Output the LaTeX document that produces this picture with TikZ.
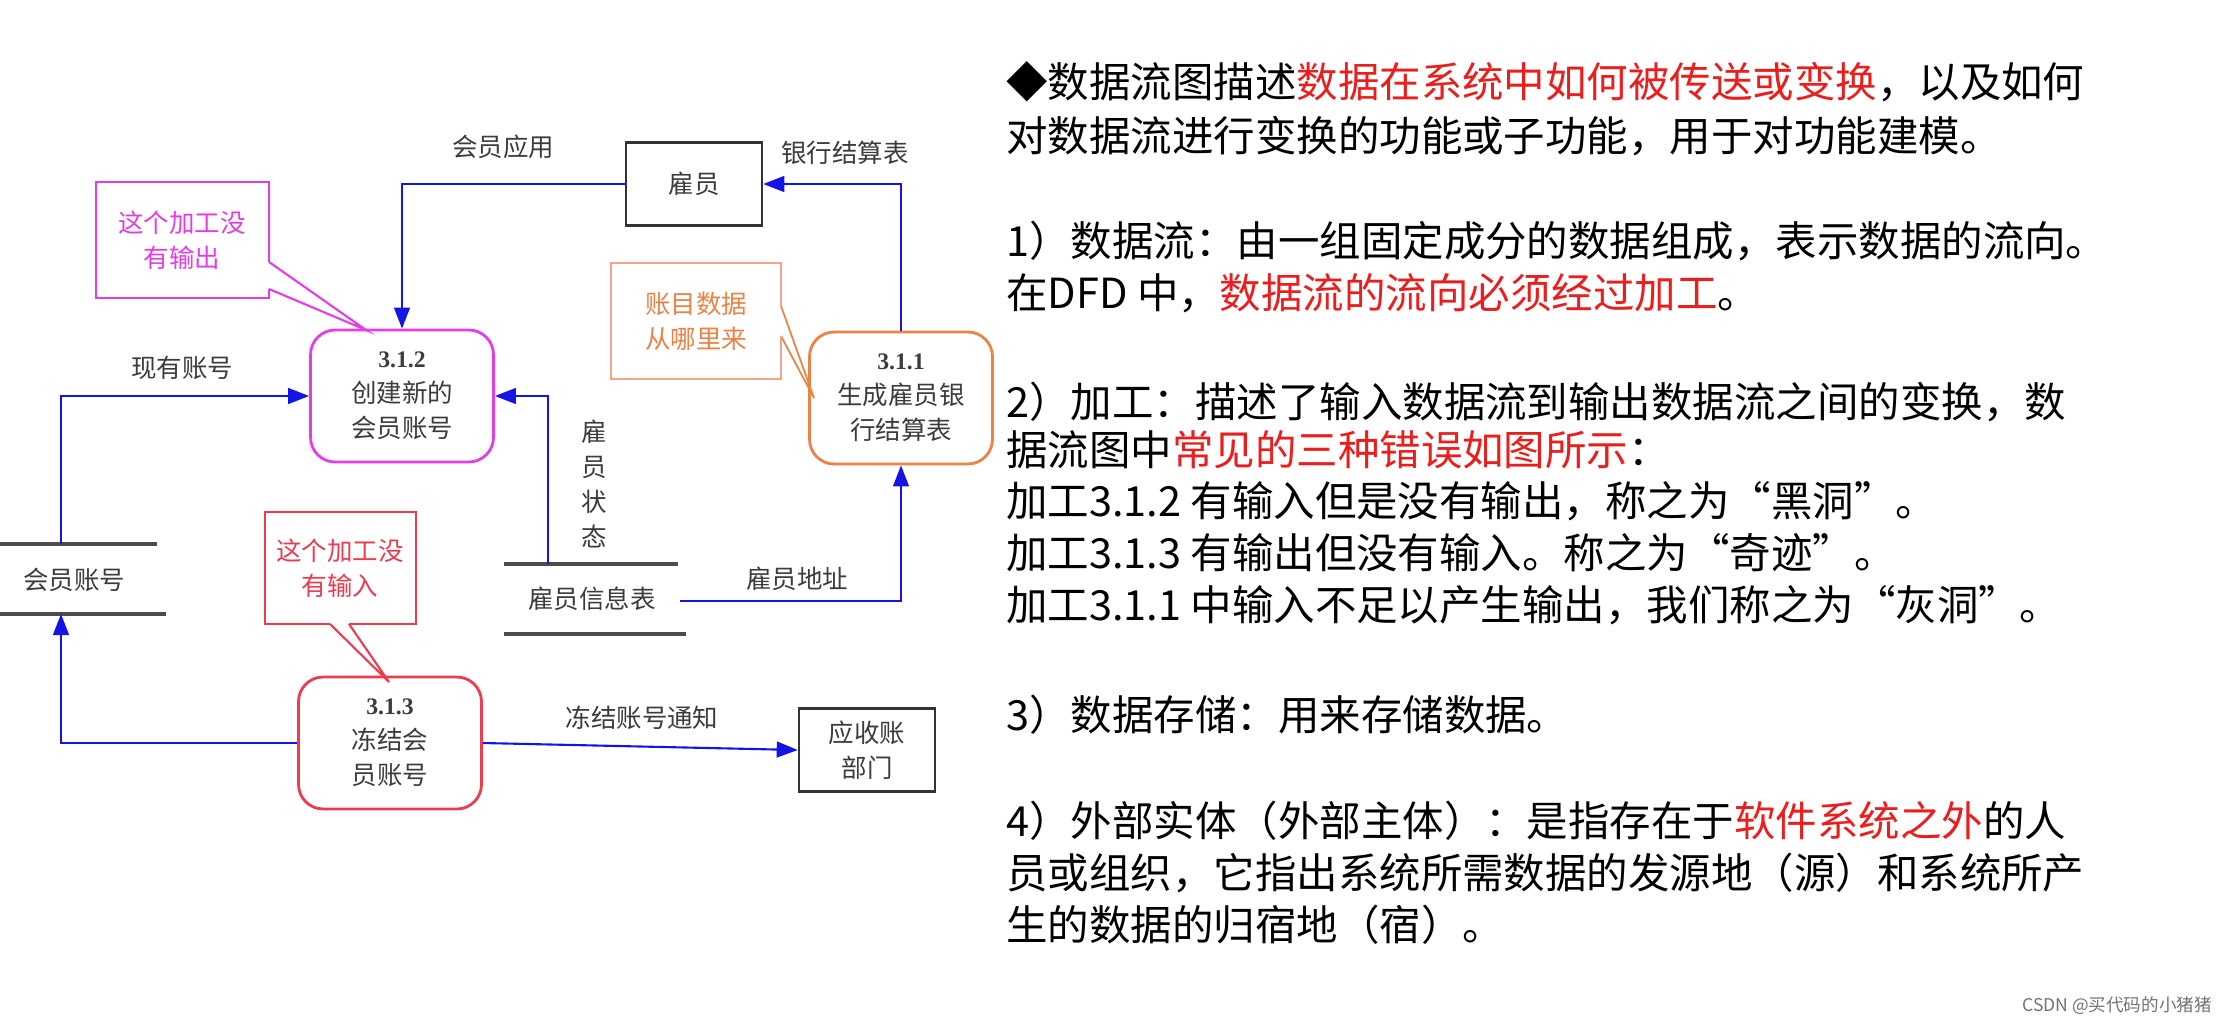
\documentclass[tikz,border=0pt]{standalone}
\usepackage{fontspec}
\setmainfont{Liberation Serif}
\newfontfamily\cjk{Noto Sans CJK SC}
\usetikzlibrary{arrows.meta}
\definecolor{flow}{RGB}{20,20,230}
\definecolor{mag}{RGB}{230,60,230}
\definecolor{rd}{RGB}{235,60,80}
\definecolor{org}{RGB}{235,130,70}
\definecolor{org2}{RGB}{240,165,140}
\definecolor{tred}{RGB}{235,30,30}
\definecolor{gtxt}{RGB}{60,60,60}
\newcommand\pnum[1]{{\normalfont\bfseries\fontsize{13.5}{16}\selectfont #1}}
\tikzset{
  proc/.style={draw,rounded corners=14pt,line width=1.6pt,minimum width=3.66cm,minimum height=2.64cm,align=center,font=\cjk\fontsize{14.5}{20}\selectfont,text=gtxt},
  ent/.style={draw=black!80,line width=1.4pt,minimum width=2.72cm,minimum height=1.66cm,align=center,font=\cjk\fontsize{14.5}{20}\selectfont,text=gtxt},
  lbl/.style={font=\cjk\fontsize{14.5}{17}\selectfont,text=gtxt},
  fl/.style={draw=flow,line width=1.2pt,-{Triangle[length=12pt,width=9pt]}},
  store/.style={draw=black!70,line width=2pt},
  cl/.style={font=\cjk\fontsize{14.5}{20}\selectfont,align=center},
  rt/.style={anchor=west,font=\cjk\fontsize{23.6}{28}\selectfont,text=black,inner sep=0pt}
}
\begin{document}
\begin{tikzpicture}[x=0.02cm,y=-0.02cm]
\useasboundingbox[fill=white] (0,0) rectangle (2228,1028);
% entities
\node[ent] (emp) at (694,184) {雇员};
\node[ent] (ar) at (867,750) {应收账\\部门};
% processes
\node[proc,draw=mag] (p312) at (402,396) {\pnum{3.1.2}\\创建新的\\会员账号};
\node[proc,draw=org] (p311) at (901,398) {\pnum{3.1.1}\\生成雇员银\\行结算表};
\node[proc,draw=rd] (p313) at (390,743) {\pnum{3.1.3}\\冻结会\\员账号};
% data stores
\draw[store] (0,544) -- (157,544);
\draw[store] (0,614) -- (166,614);
\node[lbl] (ds1) at (74,580) {会员账号};
\coordinate (ds1t) at (61,544);
\coordinate (ds1b) at (61,614);
\draw[store] (504,564) -- (678,564);
\draw[store] (504,634) -- (686,634);
\node[lbl] (ds2) at (592,599) {雇员信息表};
\coordinate (ds2t) at (548,564);
\coordinate (ds2r) at (680,601);
% flows
\draw[fl] (emp.west) -| (p312.north);
\node[lbl] at (503,147) {会员应用};
\draw[fl] (p311.north) |- (emp.east);
\node[lbl] at (845,153) {银行结算表};
\draw[fl] (ds1t) |- (p312.west);
\node[lbl] at (182,368) {现有账号};
\draw[fl] (ds2t) |- (p312.east);
\node[lbl,align=center,font=\cjk\fontsize{14.5}{20}\selectfont] at (594,484) {雇\\员\\状\\态};
\draw[fl] (ds2r) -| (p311.south);
\node[lbl] at (797,579) {雇员地址};
\draw[fl] (p313.west) -| (ds1b);
\draw[fl] (p313.east) -- (ar.west);
\node[lbl] at (642,718) {冻结账号通知};
% callouts
\draw[mag,line width=1.2pt] (269,262) -- (366,330) -- (269,289);
\draw[mag,line width=1.2pt] (269,289) -- (269,298) -- (96,298) -- (96,182) -- (269,182) -- (269,262);
\node[cl,text=mag] (c1) at (182,240) {这个加工没\\有输出};
\draw[rd,line width=1.2pt] (330,624) -- (389,682) -- (349,624);
\draw[rd,line width=1.2pt] (330,624) -- (265,624) -- (265,512) -- (416,512) -- (416,624) -- (349,624);
\node[cl,text=rd] (c2) at (340,568) {这个加工没\\有输入};
\draw[org,line width=1pt] (781,306) -- (814,398) -- (781,336);
\draw[org2,line width=1.2pt] (781,306) -- (781,263) -- (611,263) -- (611,379) -- (781,379) -- (781,336);
\node[cl,text=org] (c3) at (696,321) {账目数据\\从哪里来};
% right text
\node[rt] (t1) at (1006,82) {◆数据流图描述\textcolor{tred}{数据在系统中如何被传送或变换}，以及如何};
\node[rt] (t2) at (1006,136) {对数据流进行变换的功能或子功能，用于对功能建模。};
\node[rt] (t3) at (1006,241) {1）数据流：由一组固定成分的数据组成，表示数据的流向。};
\node[rt] (t4) at (1006,293) {在DFD 中，\textcolor{tred}{数据流的流向必须经过加工}。};
\node[rt] (t5) at (1006,402) {2）加工：描述了输入数据流到输出数据流之间的变换，数};
\node[rt] (t6) at (1006,450) {据流图中\textcolor{tred}{常见的三种错误如图所示}：};
\node[rt] (t7) at (1006,501) {加工3.1.2 有输入但是没有输出，称之为“黑洞”。};
\node[rt] (t8) at (1006,553) {加工3.1.3 有输出但没有输入。称之为“奇迹”。};
\node[rt] (t9) at (1006,605) {加工3.1.1 中输入不足以产生输出，我们称之为“灰洞”。};
\node[rt] (t10) at (1006,715) {3）数据存储：用来存储数据。};
\node[rt] (t11) at (1006,821) {4）外部实体（外部主体）：是指存在于\textcolor{tred}{软件系统之外}的人};
\node[rt] (t12) at (1006,873) {员或组织，它指出系统所需数据的发源地（源）和系统所产};
\node[rt] (t13) at (1006,925) {生的数据的归宿地（宿）。};
\node[anchor=east,font=\cjk\fontsize{10}{12}\selectfont,text=black!55] (wm) at (2218,1006) {CSDN @买代码的小猪猪};
\end{tikzpicture}
\end{document}
